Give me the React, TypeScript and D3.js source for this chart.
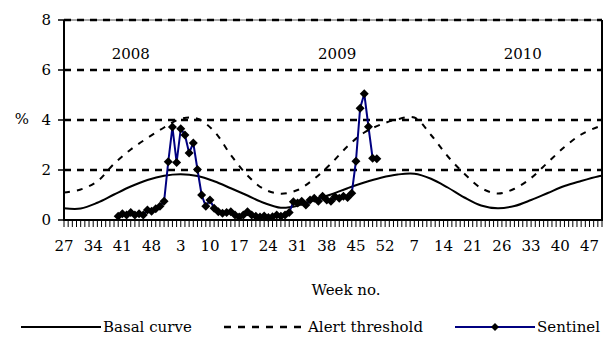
import React from "react";
import * as d3 from "d3";

// Category index 0 = week 27 of 2008, one category per week, 130 categories
const categoryCount = 130;
const tickLabels = ["27","34","41","48","3","10","17","24","31","38","45","52","7","14","21","26","33","40","47"];
const tickEvery = 7;

const yTicks = [0, 2, 4, 6, 8];
const gridValues = [2, 4, 6, 8];

const yearLabels = ["2008", "2009", "2010"];
const yearIdx = [16, 65.5, 110];

// Smooth reference curves sampled at these category indices
const curveIdx = [0,4,8,12,16,20,24,28,32,36,40,44,48,52,56,60,64,68,72,76,80,84,88,92,96,100,104,108,112,116,120,124,128,129];
const basalValues = [0.47,0.46,0.69,1.02,1.34,1.60,1.77,1.83,1.76,1.55,1.27,0.98,0.68,0.49,0.57,0.80,1.02,1.27,1.50,1.69,1.82,1.85,1.65,1.30,0.90,0.58,0.47,0.56,0.80,1.08,1.36,1.56,1.74,1.77];
const alertValues = [1.10,1.22,1.55,2.25,2.82,3.28,3.70,4.05,4.05,3.55,2.60,1.78,1.23,1.05,1.20,1.65,2.25,2.95,3.50,3.82,4.03,4.10,3.40,2.55,1.85,1.28,1.06,1.25,1.68,2.30,2.92,3.42,3.72,3.76];

// Sentinel series: category indices 13..75
const sentinelIdx = [13,14,15,16,17,18,19,20,21,22,23,24,25,26,27,28,29,30,31,32,33,34,35,36,37,38,39,40,41,42,43,44,45,46,47,48,49,50,51,52,53,54,55,56,57,58,59,60,61,62,63,64,65,66,67,68,69,70,71,72,73,74,75];
const sentinelValues = [0.15,0.25,0.2,0.3,0.2,0.25,0.2,0.4,0.35,0.45,0.55,0.75,2.33,3.72,2.3,3.65,3.4,2.68,3.08,2.02,1.0,0.55,0.8,0.47,0.33,0.27,0.3,0.33,0.2,0.12,0.2,0.33,0.2,0.15,0.12,0.16,0.1,0.13,0.2,0.15,0.2,0.3,0.73,0.68,0.75,0.6,0.8,0.87,0.75,0.95,0.8,0.75,0.93,0.87,0.95,0.9,1.07,2.35,4.47,5.05,3.73,2.47,2.45];

const legendNames = ["Basal curve", "Alert threshold", "Sentinel"];

const FONT = "'DejaVu Serif', serif";
const NAVY = "#000080";

function diamond(cx: number, cy: number, r: number) {
  return `M${cx},${cy - r}L${cx + r},${cy}L${cx},${cy + r}L${cx - r},${cy}Z`;
}

export default function App() {
  const W = 614, H = 340;
  const left = 64, right = 602, top = 20, bottom = 220;
  const x = d3.scaleLinear().domain([0, categoryCount - 1]).range([left, right]);
  const y = d3.scaleLinear().domain([0, 8]).range([bottom, top]);

  const curveLine = d3.line<number>()
    .x((_, i) => x(curveIdx[i]))
    .y((d) => y(d))
    .curve(d3.curveCatmullRom.alpha(0.5));

  const sentLine = d3.line<number>()
    .x((_, i) => x(sentinelIdx[i]))
    .y((d) => y(d));

  const cats = d3.range(categoryCount);

  return (
    <svg width={W} height={H} style={{ position: "absolute", left: 0, top: 0, background: "#fff" }}
      fontFamily={FONT} fontSize={15}>
      <rect x={0} y={0} width={W} height={H} fill="#fff" />
      {/* frame */}
      <line x1={left} x2={right} y1={top} y2={top} stroke="#555" strokeWidth={1} />
      <line x1={right} x2={right} y1={top} y2={bottom} stroke="#000" strokeWidth={2} />
      {/* gridlines */}
      {gridValues.map((v) => (
        <line key={v} x1={left} x2={right} y1={y(v)} y2={y(v)} stroke="#000" strokeWidth={2.5} strokeDasharray="7,6" />
      ))}
      {/* basal */}
      <path d={curveLine(basalValues) || ""} fill="none" stroke="#000" strokeWidth={2} />
      {/* alert */}
      <path d={curveLine(alertValues) || ""} fill="none" stroke="#000" strokeWidth={2} strokeDasharray="6,7" />
      {/* sentinel */}
      <path d={sentLine(sentinelValues) || ""} fill="none" stroke={NAVY} strokeWidth={2} />
      {sentinelValues.map((v, i) => (
        <path key={i} d={diamond(x(sentinelIdx[i]), y(v), 4.5)} fill="#000" />
      ))}
      {/* x axis */}
      {cats.map((c) => (
        <line key={c} x1={x(c)} x2={x(c)} y1={bottom} y2={bottom + 7} stroke="#000" strokeWidth={1} />
      ))}
      <line x1={left - 1} x2={right + 1} y1={bottom} y2={bottom} stroke="#000" strokeWidth={2} />
      {tickLabels.map((t, i) => (
        <text key={i} x={x(i * tickEvery)} y={251} textAnchor="middle" fill="#000">{t}</text>
      ))}
      {/* y axis */}
      <line x1={left} x2={left} y1={top} y2={bottom + 1} stroke="#000" strokeWidth={2} />
      {yTicks.map((v) => (
        <g key={v}>
          <line x1={left - 6} x2={left} y1={y(v)} y2={y(v)} stroke="#000" strokeWidth={1.5} />
          <text x={51} y={y(v) + 5} textAnchor="end" fill="#000">{v}</text>
        </g>
      ))}
      <text x={22} y={y(4) + 4} textAnchor="middle" fill="#000">%</text>
      {/* year labels */}
      {yearLabels.map((t, i) => (
        <text key={t} x={x(yearIdx[i])} y={59} textAnchor="middle" fill="#000">{t}</text>
      ))}
      {/* axis title */}
      <text x={346} y={295} textAnchor="middle" fill="#000">Week no.</text>
      {/* legend */}
      <g>
        <line x1={21} x2={101} y1={327} y2={327} stroke="#000" strokeWidth={2} />
        <text x={103} y={332} fill="#000">{legendNames[0]}</text>
        <line x1={224} x2={304} y1={327} y2={327} stroke="#000" strokeWidth={2.5} strokeDasharray="7,7" />
        <text x={308} y={332} fill="#000">{legendNames[1]}</text>
        <line x1={455} x2={535} y1={327} y2={327} stroke={NAVY} strokeWidth={2} />
        <path d={diamond(495, 327, 4)} fill="#000" />
        <text x={537} y={332} fill="#000">{legendNames[2]}</text>
      </g>
    </svg>
  );
}
